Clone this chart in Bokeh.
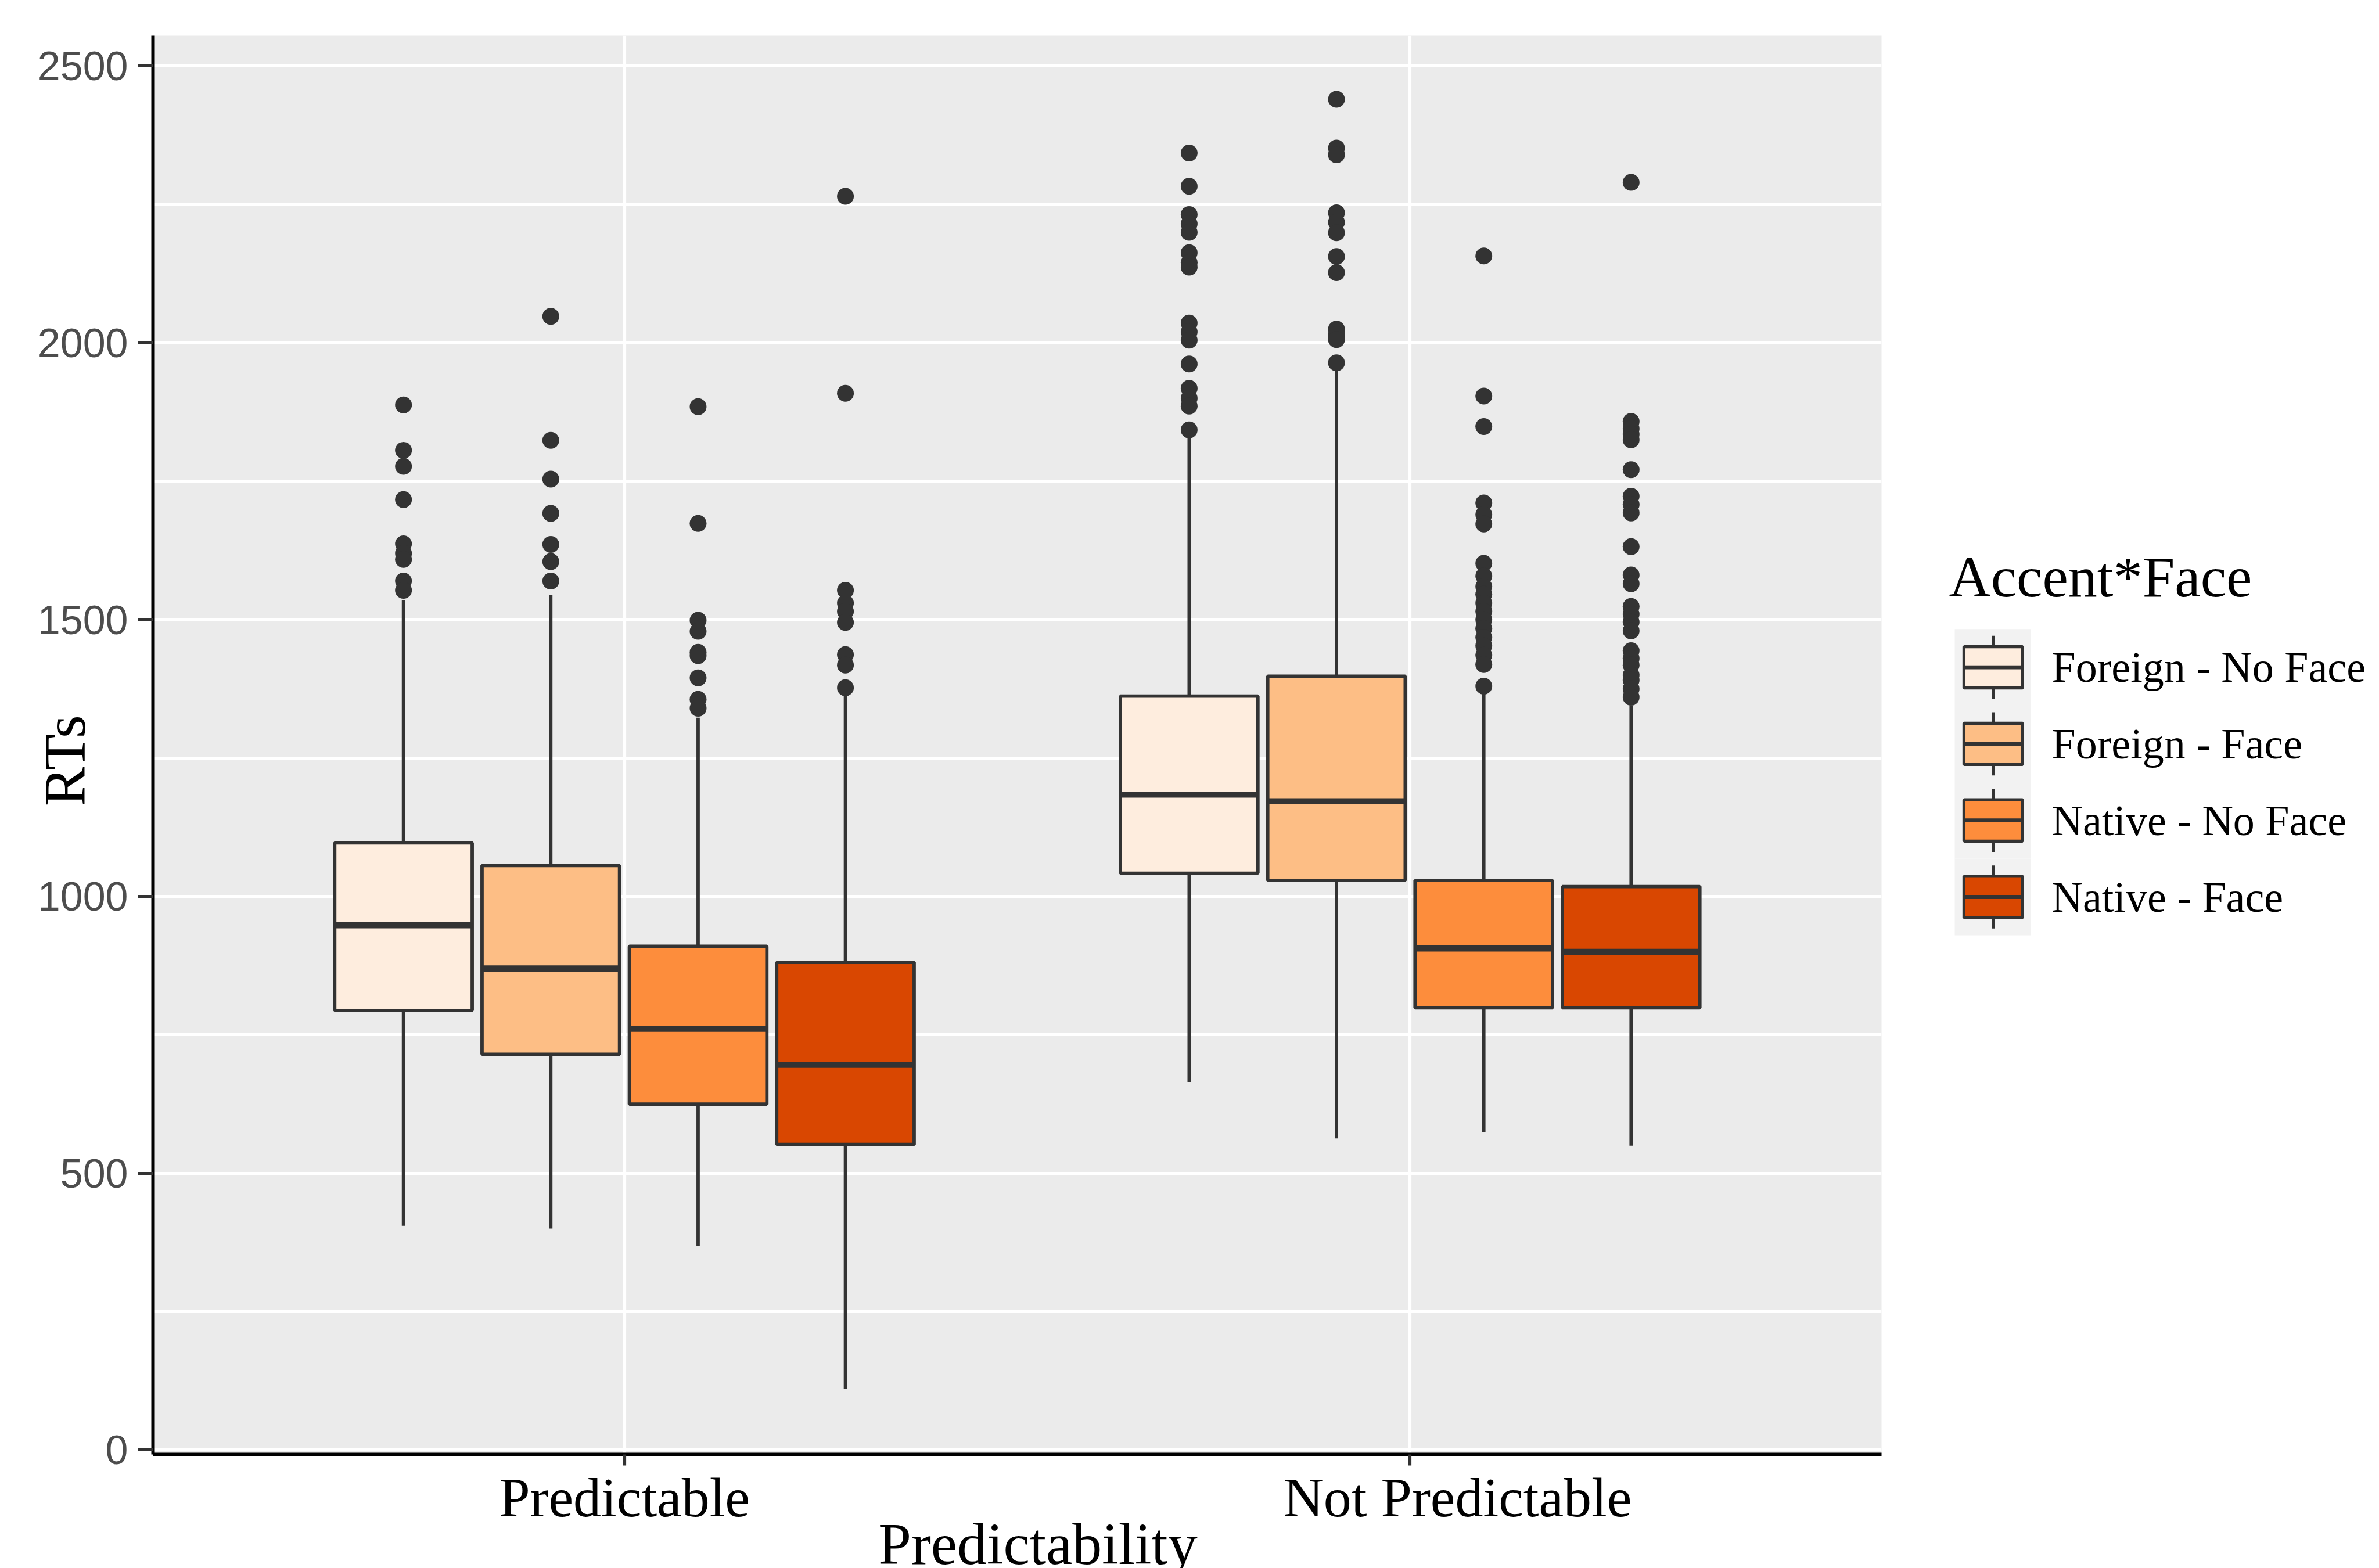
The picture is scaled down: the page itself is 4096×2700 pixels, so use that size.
from bokeh.plotting import figure
from bokeh.models import Range1d, FixedTicker, ColumnDataSource, LinearAxis
from bokeh.layouts import row, column
from bokeh.embed import file_html
from bokeh.resources import INLINE

S = 0.962  # drawing scale relative to the reference

# ---------------- data ----------------
groups = ["Predictable", "Not Predictable"]
conditions = ["Foreign - No Face", "Foreign - Face", "Native - No Face", "Native - Face"]
fill_colors = ["#FEEDDE", "#FDBE85", "#FD8D3C", "#D94701"]

# group-major order: Predictable x 4 conditions, then Not Predictable x 4 conditions
whisker_low = [405, 400, 369, 110, 665, 563, 574, 550]
q1 = [794, 715, 625, 552, 1042, 1029, 799, 799]
median = [948, 870, 761, 696, 1184, 1172, 906, 900]
q3 = [1097, 1056, 910, 881, 1362, 1398, 1029, 1018]
whisker_high = [1535, 1545, 1323, 1362, 1830, 1950, 1366, 1345]

out_pred_fnf = [1888, 1806, 1777, 1717, 1637, 1620, 1609, 1570, 1553]
out_pred_ff = [2048, 1824, 1754, 1692, 1636, 1605, 1570]
out_pred_nnf = [1885, 1674, 1499, 1479, 1441, 1435, 1395, 1356, 1340]
out_pred_nf = [2265, 1909, 1553, 1530, 1515, 1495, 1437, 1418, 1377]
out_np_fnf = [2343, 2283, 2232, 2215, 2200, 2163, 2145, 2137, 2036, 2020, 2005,
              1962, 1918, 1900, 1886, 1843]
out_np_ff = [2440, 2352, 2340, 2235, 2218, 2199, 2156, 2127, 2025, 2015, 2006, 1964]
out_np_nnf = [2157, 1904, 1849, 1711, 1690, 1673, 1602, 1579, 1560, 1546, 1530,
              1515, 1500, 1484, 1468, 1453, 1436, 1419, 1380]
out_np_nf = [2290, 1858, 1845, 1835, 1825, 1771, 1723, 1708, 1693, 1632, 1581,
             1565, 1524, 1510, 1496, 1480, 1444, 1430, 1418, 1400, 1391, 1375, 1360]
outliers = [out_pred_fnf, out_pred_ff, out_pred_nnf, out_pred_nf,
            out_np_fnf, out_np_ff, out_np_nnf, out_np_nf]

y_ticks = [0, 500, 1000, 1500, 2000, 2500]
y_minor_ticks = [250, 750, 1250, 1750, 2250]

x_title = "Predictability"
y_title = "RTs"
legend_title = "Accent*Face"

# ---------------- layout constants (reference pixels unless noted) ----------------
TOTAL_W = 4080
TOTAL_H = 2720
MAIN_W = round(3420 * S)
LEG_W = TOTAL_W - MAIN_W

DODGE = 0.75
BOX_WIDTH = 0.7
DARK = "#333333"
SERIF = "Liberation Serif"

n = len(conditions)
xs, lefts, rights, cols = [], [], [], []
for gi, g in enumerate(groups):
    for ci, c in enumerate(conditions):
        xc = gi + 1 + (ci - (n - 1) / 2) * DODGE / n
        xs.append(xc)
        lefts.append(xc - BOX_WIDTH / n / 2)
        rights.append(xc + BOX_WIDTH / n / 2)
        cols.append(fill_colors[ci])

src = ColumnDataSource(dict(x=xs, left=lefts, right=rights, low=whisker_low, q1=q1,
                            med=median, q3=q3, high=whisker_high, color=cols))

ox, oy = [], []
for i, pts in enumerate(outliers):
    for v in pts:
        ox.append(xs[i])
        oy.append(v)

# ---------------- main plot ----------------
frame_left = round(273.5 * S)
frame_right = round(3367 * S)
frame_top = round(63.4 * S)
frame_bottom = round(2602.5 * S)

p = figure(width=MAIN_W, height=TOTAL_H, output_backend="svg", toolbar_location=None,
           title=None, x_range=Range1d(0.4, 2.6), y_range=Range1d(-8, 2555),
           min_border_left=frame_left, min_border_right=MAIN_W - frame_right,
           min_border_top=frame_top, min_border_bottom=TOTAL_H - frame_bottom)
p.background_fill_color = "#EBEBEB"
p.border_fill_color = "white"
p.outline_line_color = None
# pixel-position ranges (reference px) used only to place the text axes
p.extra_x_ranges = {"px": Range1d(frame_left / S, frame_right / S)}
p.extra_y_ranges = {"py": Range1d(frame_bottom / S, frame_top / S)}

yt = FixedTicker(ticks=y_ticks, minor_ticks=y_minor_ticks)
xt = FixedTicker(ticks=[1, 2])
p.yaxis.ticker = yt
p.xaxis.ticker = xt
p.ygrid.ticker = yt
p.xgrid.ticker = xt

for g in (p.xgrid, p.ygrid):
    g.grid_line_color = "white"
    g.grid_line_width = 5.2
p.ygrid.minor_grid_line_color = "white"
p.ygrid.minor_grid_line_width = 5.2

for ax in (p.xaxis, p.yaxis):
    ax.axis_line_color = "black"
    ax.axis_line_width = 6
    ax.major_tick_line_color = DARK
    ax.major_tick_line_width = 5.2
    ax.major_tick_in = 0
    ax.minor_tick_line_color = None

p.yaxis.major_tick_out = 26
p.yaxis.major_label_standoff = 17
p.yaxis.major_label_text_font = "Liberation Sans"
p.yaxis.major_label_text_font_size = "70px"
p.yaxis.major_label_text_color = "#4D4D4D"

p.xaxis.major_tick_out = 19
p.xaxis.major_label_overrides = {1: "", 2: ""}
p.xaxis.major_label_text_font_size = "1px"
p.xaxis.major_label_standoff = 0


def text_axis(range_name, dim, ticks, labels, size, standoff, orientation="horizontal"):
    kw = {"x_range_name": range_name} if dim == "x" else {"y_range_name": range_name}
    ax = LinearAxis(ticker=FixedTicker(ticks=ticks),
                    major_label_overrides=dict(zip(ticks, labels)), **kw)
    ax.axis_line_color = None
    ax.major_tick_line_color = None
    ax.minor_tick_line_color = None
    ax.major_tick_in = 0
    ax.major_tick_out = 0
    ax.major_label_standoff = standoff
    ax.major_label_text_font = SERIF
    ax.major_label_text_font_size = f"{size}px"
    ax.major_label_text_color = "black"
    ax.major_label_orientation = orientation
    return ax


# category names (reference x positions of their centres)
cat_label_x = [1117, 2608]
p.add_layout(text_axis("px", "x", cat_label_x, groups, round(100 * S), 1), "below")
# x title
p.add_layout(text_axis("px", "x", [1857], [x_title], round(106 * S), -33), "below")
# y title, drawn over the tick-label column as in the reference
p.add_layout(text_axis("py", "y", [1361], [y_title], round(106 * S), -107,
                       orientation="vertical"), "left")

# boxplots
p.segment(x0="x", y0="low", x1="x", y1="q1", source=src, line_color=DARK, line_width=5.8)
p.segment(x0="x", y0="q3", x1="x", y1="high", source=src, line_color=DARK, line_width=5.8)
p.quad(left="left", right="right", bottom="q1", top="q3", source=src,
       fill_color="color", line_color=DARK, line_width=5.8)
p.segment(x0="left", y0="med", x1="right", y1="med", source=src,
          line_color=DARK, line_width=10.6)
p.scatter(ox, oy, marker="circle", size=29, fill_color=DARK, line_color=None)

# ---------------- legend ----------------
X0 = 3420
SPLIT = 1100  # reference y where the legend title panel ends
H1 = round(SPLIT * S)
H2 = TOTAL_H - H1

KEY_LEFT, KEY_W, KEY_TOP, KEY_H = 3498, 136, 1125.5, 137
KEY_CX = 3567
BOX_HW, BOX_HH, WHISK_H = 52.5, 37, 56.5
# both legend panels share the same frame edges (the column aligns them)
k_fr = round((KEY_LEFT + KEY_W - X0) * S)
X1 = X0 + k_fr / S


def blank_fig(h, yr):
    f = figure(width=LEG_W, height=h, output_backend="svg", toolbar_location=None, title=None,
               x_range=Range1d(X0, X1), y_range=yr, x_axis_location=None,
               y_axis_location="right", min_border_left=0, min_border_top=0,
               min_border_bottom=0, min_border_right=LEG_W - k_fr)
    f.outline_line_color = None
    f.background_fill_color = "white"
    f.border_fill_color = "white"
    f.grid.grid_line_color = None
    f.yaxis.axis_line_color = None
    f.yaxis.major_tick_line_color = None
    f.yaxis.minor_tick_line_color = None
    f.yaxis.major_tick_in = 0
    f.yaxis.major_tick_out = 0
    f.yaxis.major_label_text_font = SERIF
    f.yaxis.major_label_text_color = "black"
    return f


# legend keys panel
kf = blank_fig(H2, Range1d(TOTAL_H / S, H1 / S))

kc = [int(KEY_TOP + KEY_H * (i + 0.5)) for i in range(n)]
ksrc = ColumnDataSource(dict(
    kl=[KEY_LEFT] * n, kr=[KEY_LEFT + KEY_W] * n,
    kt=[c - KEY_H / 2 for c in kc], kb=[c + KEY_H / 2 for c in kc],
    cx=[KEY_CX] * n, cy=kc,
    bl=[KEY_CX - BOX_HW] * n, br=[KEY_CX + BOX_HW] * n,
    bt=[c - BOX_HH for c in kc], bb=[c + BOX_HH for c in kc],
    wt=[c - WHISK_H for c in kc], wb=[c + WHISK_H for c in kc],
    color=fill_colors))

kf.quad(left="kl", right="kr", top="kt", bottom="kb", source=ksrc,
        fill_color="#F2F2F2", line_color=None)
kf.segment(x0="cx", y0="wt", x1="cx", y1="wb", source=ksrc, line_color=DARK, line_width=5.2)
kf.quad(left="bl", right="br", top="bt", bottom="bb", source=ksrc,
        fill_color="color", line_color=DARK, line_width=5.2)
kf.segment(x0="bl", y0="cy", x1="br", y1="cy", source=ksrc, line_color=DARK, line_width=6.8)

kf.yaxis.ticker = FixedTicker(ticks=kc)
kf.yaxis.major_label_overrides = dict(zip(kc, conditions))
kf.yaxis.major_label_text_font_size = f"{round(77 * S)}px"
kf.yaxis.major_label_standoff = round((3671 - KEY_LEFT - KEY_W) * S)

# legend title panel
tt = blank_fig(H1, Range1d(H1 / S, 0))
tt.scatter([X0 + 1], [SPLIT - 1], size=0, fill_alpha=0, line_alpha=0)
tt.yaxis.ticker = FixedTicker(ticks=[1032])
tt.yaxis.major_label_overrides = {1032: legend_title}
tt.yaxis.major_label_text_font_size = f"{round(104 * S)}px"
tt.yaxis.major_label_standoff = round((3487 - KEY_LEFT - KEY_W) * S)

layout = row(p, column(tt, kf))
open("out.html", "w").write(file_html(layout, INLINE))
